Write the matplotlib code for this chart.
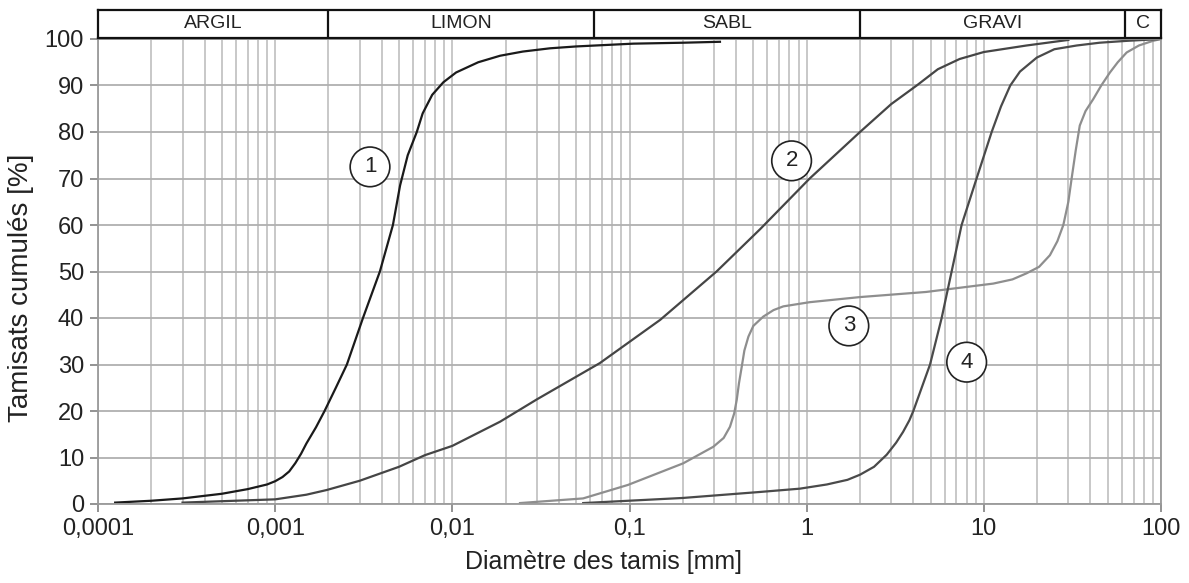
import matplotlib
matplotlib.use("Agg")
import matplotlib.pyplot as plt
import numpy as np

plt.rcParams['font.family'] = ['Liberation Sans', 'DejaVu Sans']

# grain size curves: sieve diameter (mm), cumulative passing (%)
c1_d = [0.000125, 0.0002, 0.0003, 0.0005, 0.0007, 0.0009, 0.001, 0.0011, 0.0012,
        0.0013, 0.0014, 0.0015, 0.0017, 0.0019, 0.0022, 0.00254, 0.00313, 0.0039,
        0.00462, 0.00507, 0.0056, 0.0063, 0.0068, 0.0077, 0.0089, 0.0105, 0.014,
        0.0186, 0.025, 0.0356, 0.05, 0.105, 0.2, 0.324]
c1_p = [0.3, 0.7, 1.2, 2.2, 3.2, 4.2, 4.9, 5.8, 7.0, 8.8, 10.8, 13, 16.5, 20, 25, 30,
        40, 50, 60, 68.5, 75, 80, 84, 88, 90.7, 92.8, 95, 96.4, 97.3, 98.0, 98.4,
        99.0, 99.2, 99.4]

c2_d = [0.0003, 0.0005, 0.001, 0.0015, 0.00195, 0.003, 0.005, 0.007, 0.01, 0.0186,
        0.03, 0.068, 0.149, 0.31, 0.546, 1.04, 2.0, 3.0, 4.18, 5.5, 7.3, 10, 17.4,
        25, 30.0]
c2_p = [0.3, 0.6, 1.0, 2.0, 3.0, 5.0, 8.0, 10.5, 12.5, 17.7, 22.5, 30.3, 39.6, 50,
        59.1, 70, 80, 86, 90, 93.5, 95.7, 97.2, 98.6, 99.4, 99.8]

c3_d = [0.0241, 0.0547, 0.098, 0.201, 0.297, 0.34, 0.369, 0.39, 0.403, 0.415, 0.43,
        0.445, 0.469, 0.5, 0.569, 0.65, 0.738, 1.04, 2.0, 4.72, 11.3, 14.5, 17.4,
        20.5, 23.6, 26, 28.1, 30, 31.3, 33, 34.8, 37.5, 41.5, 46, 51.5, 57, 64, 75,
        90, 100]
c3_p = [0.2, 1.2, 4.1, 8.75, 12.3, 14.2, 16.6, 19.5, 22.4, 26, 29.5, 33, 36.0, 38.3,
        40.3, 41.7, 42.5, 43.4, 44.5, 45.6, 47.4, 48.3, 49.6, 51, 53.5, 56.5, 60, 65,
        70, 76, 81.4, 84.5, 87.1, 90, 92.8, 95, 97.1, 98.6, 99.6, 100]

c4_d = [0.0548, 0.2, 0.55, 0.916, 1.3, 1.7, 2.0, 2.4, 2.83, 3.2, 3.5, 3.8, 4.0, 4.97,
        5.78, 6.58, 7.49, 9.1, 11.07, 12.5, 14.1, 16, 19.9, 25, 33.4, 45, 64, 100]
c4_p = [0.2, 1.3, 2.6, 3.3, 4.2, 5.2, 6.3, 8.0, 10.6, 13.2, 15.5, 18, 20, 30, 40, 50,
        60, 70, 80, 85.5, 90, 93, 96, 97.8, 98.6, 99.2, 99.6, 100]

curve_labels = ['1', '2', '3', '4']
label_d = [0.00343, 0.822, 1.73, 8.0]
label_p = [72.5, 73.8, 38.3, 30.5]

# soil classes (boundaries in mm)
class_names = ['ARGIL', 'LIMON', 'SABL', 'GRAVI', 'C']
class_edges = [0.0001, 0.002, 0.063, 2, 63, 100]

x_ticks = [0.0001, 0.001, 0.01, 0.1, 1, 10, 100]
x_ticklabels = ['0,0001', '0,001', '0,01', '0,1', '1', '10', '100']
y_ticks = list(range(0, 101, 10))

W, H = 1189, 583
fig = plt.figure(figsize=(W / 100, H / 100), dpi=100)
ax = fig.add_axes([98 / W, 1 - 504 / H, 1063 / W, 465 / H])
band = fig.add_axes([98 / W, 1 - 38 / H, 1063 / W, 28 / H])

grid_c = '#c4c4c4'
ax.set_xscale('log')
ax.set_xlim(1e-4, 100)
ax.set_ylim(0, 100)
ax.xaxis.set_major_locator(matplotlib.ticker.FixedLocator(x_ticks))
ax.xaxis.set_major_formatter(matplotlib.ticker.FixedFormatter(x_ticklabels))
ax.xaxis.set_minor_locator(matplotlib.ticker.LogLocator(base=10, subs=np.arange(2, 10)))
ax.xaxis.set_minor_formatter(matplotlib.ticker.NullFormatter())
ax.set_yticks(y_ticks)
ax.grid(True, which='both', axis='x', color=grid_c, lw=1.3)
ax.grid(True, which='major', axis='y', color='#b0b0b0', lw=1.3)
ax.set_axisbelow(True)
ax.tick_params(axis='both', which='major', direction='out', length=6, width=1.2,
               color='#808080', labelsize=17, labelcolor='#222222', pad=4)
ax.tick_params(axis='x', which='minor', length=0)
for s in ax.spines.values():
    s.set_color('#9a9a9a')
    s.set_linewidth(1.3)

ax.plot(c1_d, c1_p, color='#1a1a1a', lw=1.6)
ax.plot(c2_d, c2_p, color='#454545', lw=1.6)
ax.plot(c3_d, c3_p, color='#8e8e8e', lw=1.6)
ax.plot(c4_d, c4_p, color='#4a4a4a', lw=1.6)

for t, d, p in zip(curve_labels, label_d, label_p):
    ax.text(d, p, t, ha='center', va='center', fontsize=16, color='#222222',
            bbox=dict(boxstyle='circle,pad=0.42', fc='white', ec='#222222', lw=1.2))

ax.set_xlabel('Diamètre des tamis [mm]', fontsize=18, color='#222222')
ax.set_ylabel('Tamisats cumulés [%]', fontsize=20, color='#222222')
ax.xaxis.set_label_coords(0.476, -0.1)
ax.yaxis.set_label_coords(-0.06, 0.465)

# class band above the plot
band.set_xscale('log')
band.set_xlim(1e-4, 100)
band.set_ylim(0, 1)
band.set_xticks([])
band.set_yticks([])
band.minorticks_off()
for s in band.spines.values():
    s.set_color('#111111')
    s.set_linewidth(1.6)
for e in class_edges[1:-1]:
    band.axvline(e, color='#111111', lw=1.6)
for name, a, b in zip(class_names, class_edges[:-1], class_edges[1:]):
    band.text(np.sqrt(a * b), 0.5, name, ha='center', va='center', fontsize=14,
              color='#222222')

fig.savefig('out.png', dpi=100)
